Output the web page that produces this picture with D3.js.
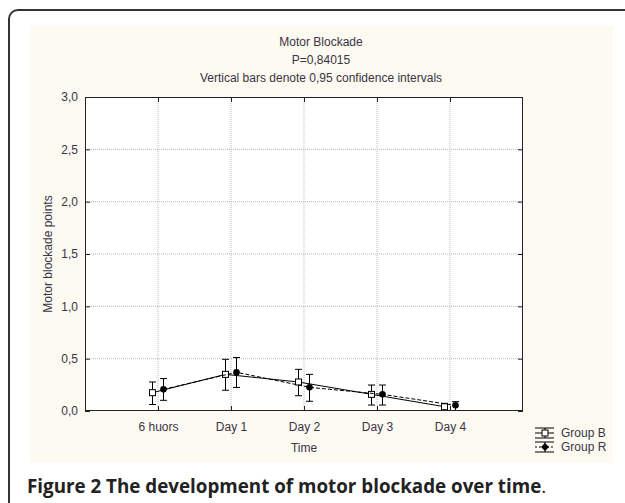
<!DOCTYPE html>
<html>
<head>
<meta charset="utf-8">
<script src="https://cdn.jsdelivr.net/npm/d3@7/dist/d3.min.js"></script>
<style>
    body { margin: 0; background: #fff; }
    svg { display: block; }
</style>
</head>
<body>
<svg id="chart" width="625" height="503"></svg>
<script>
// values
const categories = ["6 huors", "Day 1", "Day 2", "Day 3", "Day 4"];
const groupBMean = [0.175, 0.35, 0.277, 0.159, 0.041];
const groupBLower = [0.062, 0.198, 0.146, 0.057, -0.02];
const groupBUpper = [0.277, 0.494, 0.398, 0.248, 0.073];
const groupRMean = [0.207, 0.37, 0.226, 0.159, 0.054];
const groupRLower = [0.102, 0.225, 0.093, 0.057, -0.02];
const groupRUpper = [0.31, 0.511, 0.35, 0.248, 0.089];
const yTicks = [0, 0.5, 1.0, 1.5, 2.0, 2.5, 3.0];
const titleLines = ["Motor Blockade", "P=0,84015", "Vertical bars denote 0,95 confidence intervals"];

const svg = d3.select("#chart");
const textColor = "#3b3346";
const font = "'Liberation Sans', Arial, sans-serif";

const plot = {left: 85, right: 523, top: 97, bottom: 411};

// outer figure frame (only top and left are inside the window)
svg.append("path")
    .attr("d", "M9,503 V19 A9,9 0 0 1 18,10 H625")
    .attr("fill", "none")
    .attr("stroke", "#333")
    .attr("stroke-width", 2);

// beige panel behind the chart
svg.append("rect")
    .attr("x", 30).attr("y", 26)
    .attr("width", 583).attr("height", 437)
    .attr("fill", "#fcfaf1");

svg.append("rect")
    .attr("x", plot.left).attr("y", plot.top)
    .attr("width", plot.right - plot.left)
    .attr("height", plot.bottom - plot.top)
    .attr("fill", "#fff");

let x = d3.scalePoint()
    .domain(categories)
    .range([plot.left, plot.right])
    .padding(1);

let y = d3.scaleLinear()
    .domain([0, 3])
    .range([plot.bottom, plot.top]);

// dotted grid
svg.append("g")
    .selectAll("line")
    .data(yTicks.slice(1, -1))
    .enter()
    .append("line")
    .attr("x1", plot.left).attr("x2", plot.right)
    .attr("y1", d => y(d)).attr("y2", d => y(d))
    .attr("stroke", "#b8b8b8")
    .attr("stroke-dasharray", "1,1");

svg.append("g")
    .selectAll("line")
    .data(categories)
    .enter()
    .append("line")
    .attr("x1", d => x(d)).attr("x2", d => x(d))
    .attr("y1", plot.top).attr("y2", plot.bottom)
    .attr("stroke", "#b8b8b8")
    .attr("stroke-dasharray", "1,1");

// axes with inward ticks on all four sides
let leftAxis = svg.append("g")
    .attr("transform", "translate(" + plot.left + ",0)")
    .call(d3.axisLeft(y).tickValues(yTicks).tickSize(-5).tickPadding(7)
        .tickFormat(d => d3.format(".1f")(d).replace(".", ",")));

let rightAxis = svg.append("g")
    .attr("transform", "translate(" + plot.right + ",0)")
    .call(d3.axisRight(y).tickValues(yTicks).tickSize(-5).tickFormat(""));

let bottomAxis = svg.append("g")
    .attr("transform", "translate(0," + plot.bottom + ")")
    .call(d3.axisBottom(x).tickSize(-5).tickPadding(11));

let topAxis = svg.append("g")
    .attr("transform", "translate(0," + plot.top + ")")
    .call(d3.axisTop(x).tickSize(-5).tickFormat(""));

[leftAxis, rightAxis, bottomAxis, topAxis].forEach(function (a) {
    a.select(".domain").remove();
    a.selectAll(".tick line").attr("stroke", "#222");
    a.selectAll("text")
        .attr("fill", textColor)
        .style("font-family", font)
        .style("font-size", "12px");
});

svg.append("rect")
    .attr("x", plot.left + 0.5).attr("y", plot.top + 0.5)
    .attr("width", plot.right - plot.left - 1)
    .attr("height", plot.bottom - plot.top - 1)
    .attr("fill", "none")
    .attr("stroke", "#222");

svg.append("defs").append("clipPath")
    .attr("id", "plot-clip")
    .append("rect")
    .attr("x", plot.left).attr("y", plot.top)
    .attr("width", plot.right - plot.left)
    .attr("height", plot.bottom - plot.top - 1);

// series
let series = [
    {name: "Group B", mean: groupBMean, lower: groupBLower, upper: groupBUpper, dx: -5.5, dash: null, filled: false},
    {name: "Group R", mean: groupRMean, lower: groupRLower, upper: groupRUpper, dx: 5.5, dash: "4,2", filled: true}
];

let marks = svg.append("g").attr("clip-path", "url(#plot-clip)");

function drawMarker(g, s, cx, cy, diamond) {
    if (s.filled) {
        if (diamond) {
            g.append("path")
                .attr("d", "M" + cx + "," + (cy - 4) + " L" + (cx + 4) + "," + cy + " L" + cx + "," + (cy + 4) + " L" + (cx - 4) + "," + cy + "Z")
                .attr("fill", "#000");
        } else {
            g.append("circle")
                .attr("cx", cx).attr("cy", cy).attr("r", 3.3)
                .attr("fill", "#000");
        }
    } else {
        g.append("rect")
            .attr("x", cx - 3).attr("y", cy - 3)
            .attr("width", 6).attr("height", 6)
            .attr("fill", "#fff")
            .attr("stroke", "#000");
    }
}

series.forEach(function (s) {
    let pts = categories.map((c, i) => ({x: x(c) + s.dx, m: s.mean[i], lo: s.lower[i], hi: s.upper[i]}));

    marks.append("path")
        .datum(pts)
        .attr("fill", "none")
        .attr("stroke", "#000")
        .attr("stroke-dasharray", s.dash)
        .attr("d", d3.line().x(d => d.x).y(d => y(d.m)));

    let bars = marks.append("g")
        .attr("stroke", "#000")
        .selectAll("g")
        .data(pts)
        .enter()
        .append("g");

    bars.append("line")
        .attr("x1", d => d.x).attr("x2", d => d.x)
        .attr("y1", d => y(d.lo)).attr("y2", d => y(d.hi));
    bars.append("line")
        .attr("x1", d => d.x - 3.5).attr("x2", d => d.x + 3.5)
        .attr("y1", d => y(d.hi)).attr("y2", d => y(d.hi));
    bars.append("line")
        .attr("x1", d => d.x - 3.5).attr("x2", d => d.x + 3.5)
        .attr("y1", d => y(d.lo)).attr("y2", d => y(d.lo));

    pts.forEach(function (p) {
        drawMarker(marks, s, p.x, y(p.m), false);
    });
});

// titles
let title = svg.append("g")
    .attr("fill", textColor)
    .style("font-family", font)
    .style("font-size", "12px")
    .attr("text-anchor", "middle");

title.selectAll("text")
    .data(titleLines)
    .enter()
    .append("text")
    .attr("x", 321)
    .attr("y", (d, i) => 46 + i * 18)
    .text(d => d);

svg.append("text")
    .attr("x", (plot.left + plot.right) / 2)
    .attr("y", 452)
    .attr("text-anchor", "middle")
    .attr("fill", textColor)
    .style("font-family", font)
    .style("font-size", "12px")
    .text("Time");

svg.append("text")
    .attr("transform", "translate(52," + ((plot.top + plot.bottom) / 2) + ") rotate(-90)")
    .attr("text-anchor", "middle")
    .attr("fill", textColor)
    .style("font-family", font)
    .style("font-size", "12px")
    .text("Motor blockade points");

// legend
let legend = svg.append("g");
series.forEach(function (s, i) {
    let cy = 433 + i * 14;
    let g = legend.append("g").attr("stroke", "#000");
    g.append("line").attr("x1", 535).attr("x2", 554).attr("y1", cy - 5).attr("y2", cy - 5);
    g.append("line").attr("x1", 535).attr("x2", 554).attr("y1", cy + 5).attr("y2", cy + 5);
    g.append("line").attr("x1", 545).attr("x2", 545).attr("y1", cy - 5).attr("y2", cy + 5);
    g.append("line").attr("x1", 535).attr("x2", 554).attr("y1", cy).attr("y2", cy)
        .attr("stroke-dasharray", s.dash ? "2,2" : null);
    drawMarker(legend, s, 545, cy, true);
    legend.append("text")
        .attr("x", 561).attr("y", cy + 4)
        .attr("fill", textColor)
        .style("font-family", font)
        .style("font-size", "12px")
        .text(s.name);
});

// caption
let caption = svg.append("text")
    .attr("x", 27).attr("y", 493)
    .attr("fill", "#222")
    .style("font-family", "'Open Sans', sans-serif")
    .style("font-size", "18.8px");
caption.append("tspan").style("font-weight", "bold").text("Figure 2 The development of motor blockade over time");
caption.append("tspan").text(".");
</script>
</body>
</html>
